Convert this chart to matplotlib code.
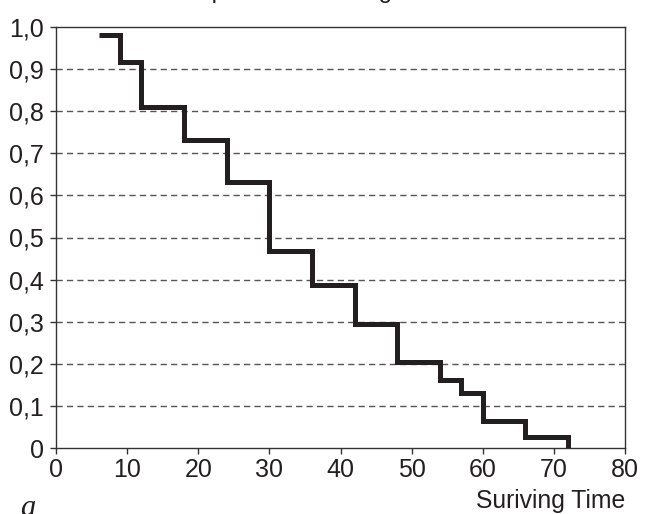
import matplotlib
matplotlib.use("Agg")
import matplotlib.pyplot as plt

# Survival function (Kaplan-Meier steps)
times = [6, 9, 12, 18, 24, 30, 36, 42, 48, 54, 57, 60, 66, 72]
survival = [0.98, 0.918, 0.811, 0.732, 0.633, 0.469, 0.386, 0.294, 0.204, 0.162, 0.130, 0.063, 0.025, 0.0]

x_ticks = [0, 10, 20, 30, 40, 50, 60, 70, 80]
y_ticks = [0, 0.1, 0.2, 0.3, 0.4, 0.5, 0.6, 0.7, 0.8, 0.9, 1.0]
y_labels = ["0", "0,1", "0,2", "0,3", "0,4", "0,5", "0,6", "0,7", "0,8", "0,9", "1,0"]

plt.rcParams['font.family'] = ['Liberation Sans', 'DejaVu Sans']

fig = plt.figure(figsize=(6.45, 5.14), dpi=100)
ax = fig.add_axes([56 / 645, 1 - 448 / 514, (625 - 56) / 645, (448 - 27) / 514])

# grille horizontale en pointillés
for y in y_ticks[1:-1]:
    ax.axhline(y, color="#555555", lw=1, linestyle=(0, (4.5, 3)), zorder=1)

ax.step(times, survival, where="post", color="#231f20", lw=3.6,
        solid_joinstyle="miter", solid_capstyle="butt", zorder=3)

ax.set_xlim(0, 80)
ax.set_ylim(0, 1.0)
ax.set_xticks(x_ticks)
ax.set_yticks(y_ticks)
ax.set_yticklabels(y_labels)
ax.tick_params(axis="both", direction="out", length=4, width=1, labelsize=18,
               color="#333333", labelcolor="#231f20")
ax.tick_params(axis="y", pad=4.5)
ax.tick_params(axis="x", pad=3)
for s in ax.spines.values():
    s.set_color("#333333")
    s.set_linewidth(1)

# titre coupé en haut de l'image
fig.text(174 / 645, 1 + 2 / 514, "Proportion Surviving", fontsize=17.5,
         ha="left", va="baseline", color="#231f20")
fig.text(625 / 645, 1 - 508 / 514, "Suriving Time", fontsize=17.8,
         ha="right", va="baseline", color="#231f20")
fig.text(20 / 645, 1 - 516 / 514, "a", fontsize=22, style="italic",
         family="Liberation Serif", ha="left", va="baseline", color="#231f20")

fig.savefig("out.png", dpi=100)
